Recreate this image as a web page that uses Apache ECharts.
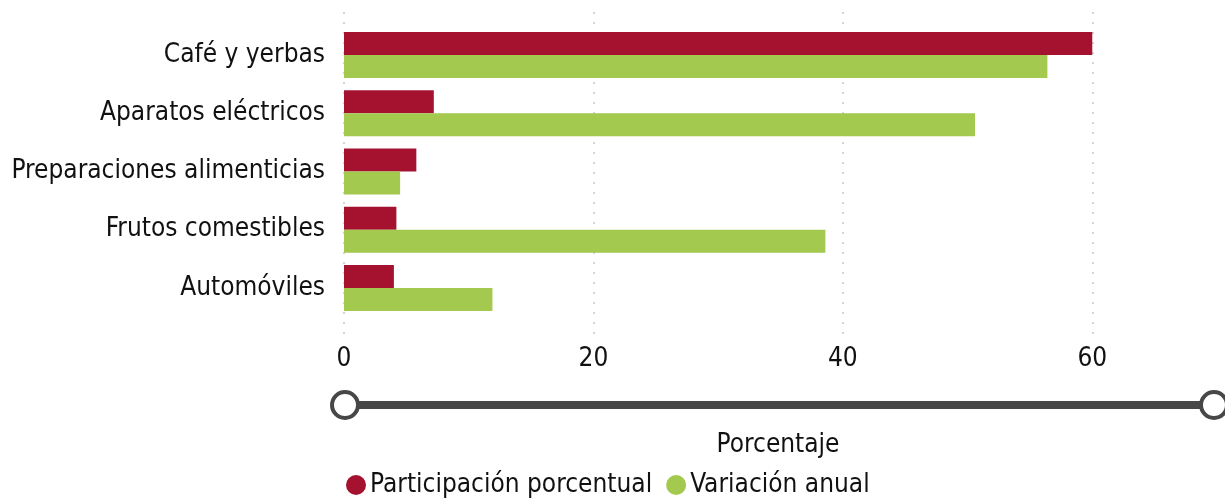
<!DOCTYPE html>
<html>
<head>
<meta charset="utf-8">
<script src="https://cdn.jsdelivr.net/npm/echarts@6/dist/echarts.min.js"></script>
<style>
  html, body { margin: 0; padding: 0; background: #fff; }
  #chart { width: 1225px; height: 500px; }
</style>
</head>
<body>
<div id="chart"></div>
<script>
// datos del grafico
const categorias = ['Café y yerbas', 'Aparatos eléctricos', 'Preparaciones alimenticias', 'Frutos comestibles', 'Automóviles'];
const participacion = [60.0, 7.2, 5.8, 4.2, 4.0];
const variacion = [56.4, 50.6, 4.5, 38.6, 11.9];
const nombresSeries = ['Participación porcentual', 'Variación anual'];
const ejeMax = 69.6;

const FONT = "'Liberation Sans Narrow', 'DejaVu Sans Condensed', 'Noto Sans', sans-serif";
const rojo = '#a51230';
const verde = '#a3c94e';
const gris = '#474747';

const chart = echarts.init(document.getElementById('chart'));

const option = {
  textStyle: { fontFamily: FONT },
  legend: {
    data: nombresSeries,
    left: 346,
    top: 472,
    padding: 0,
    icon: 'circle',
    itemWidth: 20,
    itemHeight: 20,
    itemGap: 14,
    textStyle: { fontFamily: FONT, fontSize: 26, color: '#111', padding: [0, 0, 0, -1] }
  },
  grid: [
    // rejilla de fondo: lineas punteadas y etiquetas del eje
    { left: 344, right: 13, top: 12, height: 326, outerBoundsMode: 'none', containLabel: false },
    // rejilla de las barras
    { left: 344, right: 13, top: 26, height: 291, outerBoundsMode: 'none', containLabel: false }
  ],
  xAxis: [
    {
      gridIndex: 0,
      type: 'value',
      min: 0,
      max: ejeMax,
      interval: 20,
      name: 'Porcentaje',
      nameLocation: 'middle',
      nameGap: 94,
      nameTextStyle: { fontFamily: FONT, fontSize: 26, color: '#111' },
      axisLine: { show: false },
      axisTick: { show: false },
      axisLabel: { fontFamily: FONT, fontSize: 26, color: '#111', margin: 8, showMaxLabel: false },
      splitLine: {
        show: true,
        showMaxLine: false,
        lineStyle: { color: '#c8c8c8', width: 1.5, type: [2, 8], dashOffset: 0 }
      }
    },
    {
      gridIndex: 1,
      type: 'value',
      min: 0,
      max: ejeMax,
      interval: 20,
      show: false,
      splitLine: { show: false }
    }
  ],
  yAxis: [
    { gridIndex: 0, type: 'value', show: false, min: 0, max: 1, splitLine: { show: false } },
    {
      gridIndex: 1,
      type: 'category',
      data: categorias,
      inverse: true,
      axisLine: { show: false },
      axisTick: { show: false },
      axisLabel: { fontFamily: FONT, fontSize: 26, color: '#111', margin: 19 }
    }
  ],
  dataZoom: [{
    type: 'slider',
    xAxisIndex: [0, 1],
    filterMode: 'none',
    start: 0,
    end: 100,
    left: 341,
    right: 13,
    top: 401,
    height: 8,
    backgroundColor: gris,
    borderColor: 'transparent',
    borderRadius: 0,
    fillerColor: gris,
    showDetail: false,
    showDataShadow: false,
    brushSelect: false,
    moveHandleSize: 0,
    dataBackground: { lineStyle: { opacity: 0 }, areaStyle: { opacity: 0 } },
    selectedDataBackground: { lineStyle: { opacity: 0 }, areaStyle: { opacity: 0 } },
    handleIcon: 'circle',
    handleSize: 26,
    handleStyle: { color: '#fff', borderColor: gris, borderWidth: 4 },
    emphasis: { handleStyle: { color: '#fff', borderColor: gris, borderWidth: 4 } }
  }],
  series: [
    {
      name: nombresSeries[0],
      type: 'bar',
      xAxisIndex: 1,
      yAxisIndex: 1,
      data: participacion,
      barWidth: 23,
      barGap: '0%',
      itemStyle: { color: rojo }
    },
    {
      name: nombresSeries[1],
      type: 'bar',
      xAxisIndex: 1,
      yAxisIndex: 1,
      data: variacion,
      barWidth: 23,
      barGap: '0%',
      itemStyle: { color: verde }
    }
  ]
};

chart.setOption(option);
</script>
</body>
</html>
